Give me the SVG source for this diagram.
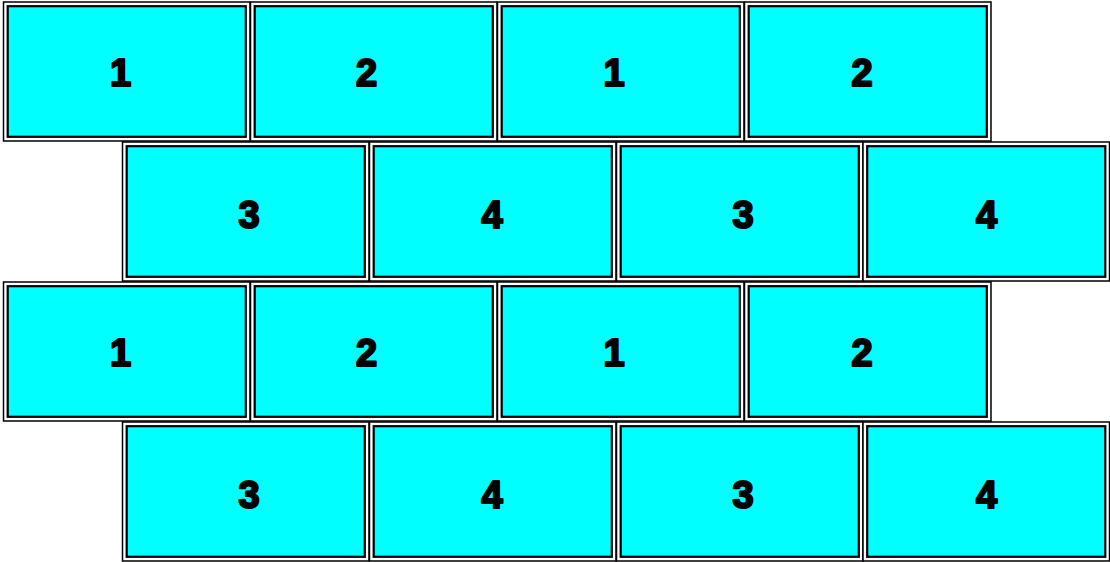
<svg xmlns="http://www.w3.org/2000/svg" width="1110" height="562" viewBox="0 0 1110 562">
<defs>
<style>
.o{fill:#fff;stroke:#000;stroke-width:1.5}
.i{fill:#00ffff;stroke:#000;stroke-width:2.2}
.t{font-family:"Liberation Sans",Arial,sans-serif;font-weight:bold;font-size:38px;fill:#000;stroke:#000;stroke-width:2.2;stroke-linejoin:round;text-anchor:middle}
</style>
<g id="cell">
<rect class="o" x="0" y="0" width="246.5" height="139"/>
<rect class="i" x="4.2" y="4.2" width="238.1" height="130.6"/>
</g>
</defs>
<rect width="1110" height="562" fill="#fff"/>
<g id="r1c1"><use href="#cell" x="3.5" y="2"/><text class="t" x="120.5" y="86">1</text></g>
<g id="r1c2"><use href="#cell" x="250.5" y="2"/><text class="t" x="366.5" y="86">2</text></g>
<g id="r1c3"><use href="#cell" x="497.5" y="2"/><text class="t" x="614" y="86">1</text></g>
<g id="r1c4"><use href="#cell" x="744.5" y="2"/><text class="t" x="862" y="86">2</text></g>
<g id="r2c1"><use href="#cell" x="122.5" y="142"/><text class="t" x="249" y="228">3</text></g>
<g id="r2c2"><use href="#cell" x="369.5" y="142"/><text class="t" x="492" y="228">4</text></g>
<g id="r2c3"><use href="#cell" x="616.5" y="142"/><text class="t" x="743" y="228">3</text></g>
<g id="r2c4"><use href="#cell" x="863" y="142"/><text class="t" x="986.5" y="228">4</text></g>
<g id="r3c1"><use href="#cell" x="3.5" y="282"/><text class="t" x="120.5" y="366">1</text></g>
<g id="r3c2"><use href="#cell" x="250.5" y="282"/><text class="t" x="366.5" y="366">2</text></g>
<g id="r3c3"><use href="#cell" x="497.5" y="282"/><text class="t" x="614" y="366">1</text></g>
<g id="r3c4"><use href="#cell" x="744.5" y="282"/><text class="t" x="862" y="366">2</text></g>
<g id="r4c1"><use href="#cell" x="122.5" y="422"/><text class="t" x="249" y="508">3</text></g>
<g id="r4c2"><use href="#cell" x="369.5" y="422"/><text class="t" x="492" y="508">4</text></g>
<g id="r4c3"><use href="#cell" x="616.5" y="422"/><text class="t" x="743" y="508">3</text></g>
<g id="r4c4"><use href="#cell" x="863" y="422"/><text class="t" x="986.5" y="508">4</text></g>
<g id="connectors"></g>
</svg>
